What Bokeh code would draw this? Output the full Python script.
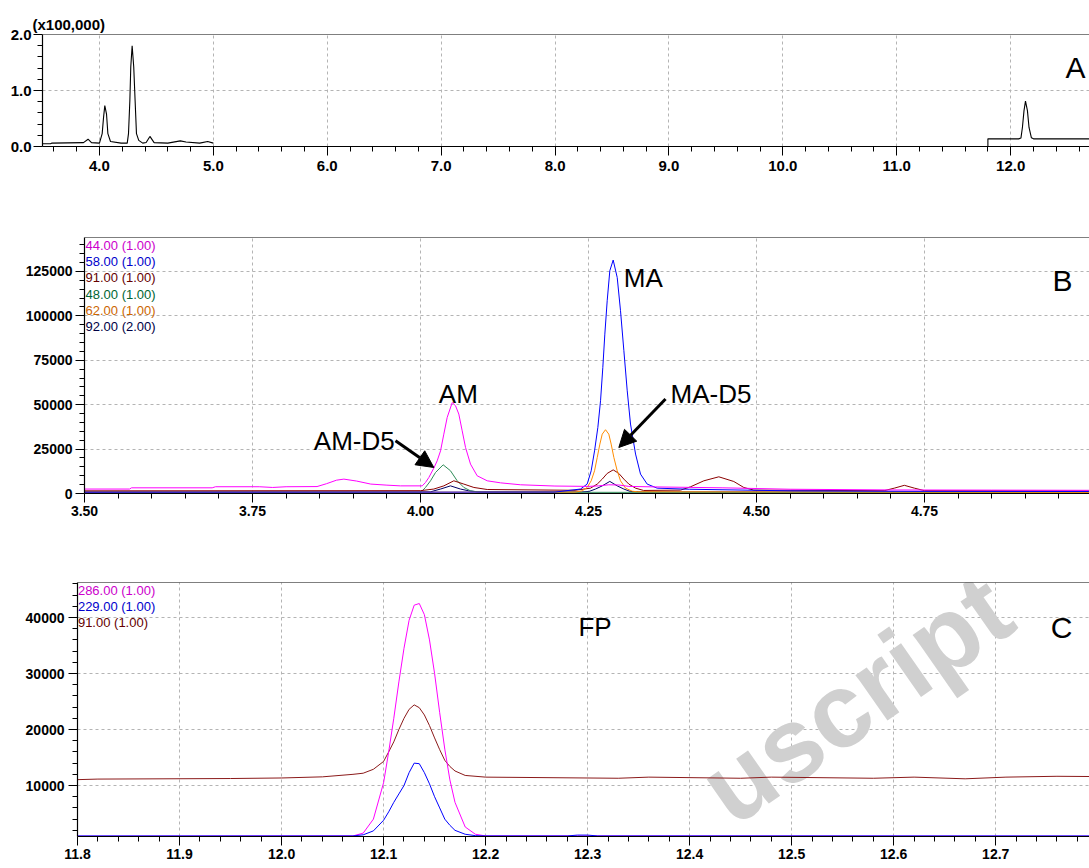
from bokeh.plotting import figure
from bokeh.models import Range1d, FixedTicker, PrintfTickFormatter, Span, Label, Arrow, NormalHead
from bokeh.embed import file_html
from bokeh.resources import INLINE

# ---------------- Panel A : TIC (x100,000) ----------------
A_T1 = [3.50, 3.57, 3.58, 3.86, 3.90, 3.93, 4.00, 4.024, 4.036, 4.047, 4.062, 4.074, 4.097, 4.19,
        4.244, 4.255, 4.267, 4.275, 4.287, 4.301, 4.313, 4.325, 4.345, 4.38, 4.41, 4.443, 4.48,
        4.60, 4.71, 4.76, 4.88, 4.95, 5.00]
A_I1 = [0.05, 0.05, 0.06, 0.07, 0.13, 0.07, 0.06, 0.23, 0.52, 0.73, 0.58, 0.23, 0.09, 0.06,
        0.06, 0.23, 0.82, 1.42, 1.80, 1.42, 0.82, 0.23, 0.11, 0.06, 0.07, 0.18, 0.07,
        0.06, 0.10, 0.08, 0.06, 0.09, 0.06]
A_T2 = [11.80, 11.80, 12.07, 12.09, 12.103, 12.117, 12.13, 12.147, 12.161, 12.182, 12.20, 12.70]
A_I2 = [0.0, 0.137, 0.136, 0.15, 0.34, 0.64, 0.81, 0.64, 0.34, 0.155, 0.137, 0.137]
A_XTICKS = [4.0, 5.0, 6.0, 7.0, 8.0, 9.0, 10.0, 11.0, 12.0]
A_YTICKS = [0.0, 1.0, 2.0]

# ---------------- Panel B : SIM 3.5-5.0 min ----------------
B_T_44 = [3.50, 3.567, 3.570, 3.690, 3.695, 3.76, 3.78, 3.80, 3.846, 3.86, 3.875, 3.886, 3.905, 3.926,
          3.95, 3.97, 4.0025, 4.0074, 4.0124, 4.0198, 4.0248, 4.0298, 4.0347, 4.0397, 4.0472, 4.0521,
          4.057, 4.062, 4.067, 4.0744, 4.0843, 4.0993, 4.119, 4.149, 4.20, 4.25, 4.265, 4.28, 4.295,
          4.31, 4.35, 4.45, 4.55, 4.70, 4.85, 5.00]
B_I_44 = [2500, 2500, 3200, 3200, 3800, 3800, 3400, 3800, 3900, 5500, 7500, 8100, 7000, 5300,
          4700, 4300, 4300, 6200, 9000, 14300, 18400, 24000, 33400, 42800, 51200, 49400,
          44700, 35300, 25900, 16550, 9970, 7150, 6000, 4900, 4200, 4000, 4300, 4900, 4800,
          4000, 3700, 3200, 2400, 2000, 1900, 1800]
B_T_58 = [3.50, 4.20, 4.238, 4.248, 4.254, 4.259, 4.2639, 4.2679, 4.2713, 4.2743, 4.2778, 4.2817,
          4.2867, 4.2927, 4.2976, 4.3026, 4.3076, 4.3125, 4.32, 4.3274, 4.3373, 4.3522, 4.40,
          4.55, 4.75, 5.00]
B_I_58 = [700, 800, 2500, 5300, 12800, 24000, 37200, 52200, 70900, 89700, 108500, 125400,
          131400, 121600, 102900, 80400, 57800, 39100, 22200, 10900, 5300, 3000, 2400,
          1500, 1200, 1100]
B_T_91 = [3.50, 4.00, 4.0198, 4.0347, 4.0496, 4.0645, 4.0794, 4.0993, 4.23, 4.253, 4.263, 4.2704,
          4.2778, 4.2867, 4.2951, 4.3026, 4.31, 4.32, 4.332, 4.387, 4.4018, 4.4216, 4.4439, 4.4662,
          4.4811, 4.496, 4.69, 4.705, 4.72, 4.735, 4.75, 5.00]
B_I_91 = [1500, 1600, 2500, 4300, 7150, 5300, 3400, 2250, 1800, 3000, 5300, 8100,
          11300, 13300, 11300, 8100, 5300, 3000, 1700, 1900, 3770, 7150, 9400, 6760,
          3380, 1900, 1600, 3000, 4600, 3000, 1600, 1400]
B_T_48 = [3.50, 4.00, 4.0025, 4.0074, 4.0149, 4.0223, 4.0337, 4.0446, 4.0546, 4.0645, 4.0744, 4.09, 5.00]
B_I_48 = [500, 500, 1500, 3400, 7150, 11800, 16150, 12800, 7150, 3400, 1500, 700, 500]
B_T_62 = [3.50, 4.23, 4.2406, 4.248, 4.254, 4.259, 4.263, 4.2669, 4.2704, 4.2753, 4.2802, 4.2837,
          4.2877, 4.2927, 4.2976, 4.3051, 4.315, 4.3224, 5.00]
B_I_62 = [700, 800, 1500, 3400, 7150, 12800, 20300, 27800, 33400, 35900, 33400, 27800,
          20300, 12800, 7150, 3000, 1300, 1000, 600]
B_T_92 = [3.50, 4.015, 4.02, 4.0298, 4.0446, 4.0595, 4.0719, 4.085, 4.24, 4.2504, 4.2604, 4.2704,
          4.2817, 4.2927, 4.3026, 4.3125, 4.33, 5.00]
B_I_92 = [900, 900, 1500, 2500, 4300, 2500, 1500, 900, 900, 1100, 2500, 4300,
          6800, 4300, 2500, 1100, 900, 800]
B_LEGEND = ["44.00 (1.00)", "58.00 (1.00)", "91.00 (1.00)", "48.00 (1.00)", "62.00 (1.00)", "92.00 (2.00)"]
B_XTICKS = [3.50, 3.75, 4.00, 4.25, 4.50, 4.75]
B_YTICKS = [0, 25000, 50000, 75000, 100000, 125000]

# ---------------- Panel C : SIM 11.8-12.8 min ----------------
C_T_286 = [11.80, 12.07, 12.08, 12.09, 12.10, 12.105, 12.11, 12.115, 12.12, 12.125, 12.13, 12.135,
           12.14, 12.145, 12.15, 12.155, 12.16, 12.165, 12.17, 12.18, 12.19, 12.20, 12.80]
C_I_286 = [950, 1000, 1500, 4000, 10500, 16000, 22000, 28500, 34500, 39500, 42200, 42500,
           40500, 36000, 30000, 23000, 16500, 11000, 7000, 2600, 1300, 1000, 950]
C_T_229 = [11.80, 12.07, 12.08, 12.09, 12.10, 12.105, 12.11, 12.115, 12.12, 12.125, 12.13, 12.135,
           12.14, 12.145, 12.15, 12.155, 12.16, 12.165, 12.17, 12.18, 12.19, 12.20, 12.28, 12.29,
           12.30, 12.31, 12.80]
C_I_229 = [1000, 1000, 1200, 1900, 3800, 5300, 7000, 8500, 10000, 12300, 14000, 13900,
           12300, 10300, 8000, 6000, 4000, 2900, 2000, 1300, 1050, 1000, 1000, 1150,
           1150, 1000, 1000]
C_T_91 = [11.80, 11.82, 11.95, 12.00, 12.04, 12.07, 12.08, 12.09, 12.10, 12.105, 12.11, 12.115,
          12.12, 12.125, 12.13, 12.135, 12.14, 12.145, 12.15, 12.155, 12.16, 12.165, 12.17, 12.18,
          12.20, 12.33, 12.36, 12.45, 12.48, 12.58, 12.62, 12.67, 12.71, 12.76, 12.80]
C_I_91 = [11050, 11150, 11250, 11350, 11550, 12000, 12200, 12900, 14300, 16000, 17800, 20000,
          22000, 23600, 24400, 23900, 22600, 20700, 18500, 16400, 14500, 13400, 12600, 11800,
          11500, 11300, 11500, 11300, 11500, 11300, 11500, 11200, 11500, 11650, 11600]
C_LEGEND = ["286.00 (1.00)", "229.00 (1.00)", "91.00 (1.00)"]
C_XTICKS = [11.8, 11.9, 12.0, 12.1, 12.2, 12.3, 12.4, 12.5, 12.6, 12.7]
C_YTICKS = [10000, 20000, 30000, 40000]

SANS = "'Liberation Sans'"
GRID = "#b4b4b4"


def make_fig(xr, yr, h, bl, bt, bb):
    p = figure(x_range=Range1d(*xr), y_range=Range1d(*yr), width=1089, height=h,
               output_backend="svg", toolbar_location=None,
               min_border_left=bl, min_border_right=0, min_border_top=bt, min_border_bottom=bb)
    p.outline_line_color = None
    p.background_fill_color = "white"
    p.border_fill_color = "white"
    p.add_layout(Span(location=yr[1], dimension="width", line_color="black", line_width=1.2))
    return p


def style(p, xticks, xminor, yticks, yminor, xfmt, yfmt, size, tick_out, minor_out, xstand, ystand):
    xt = FixedTicker(ticks=xticks, minor_ticks=xminor)
    yt = FixedTicker(ticks=yticks, minor_ticks=yminor)
    p.xaxis.ticker = xt
    p.yaxis.ticker = yt
    p.xgrid.ticker = xt
    p.ygrid.ticker = yt
    p.xaxis.formatter = PrintfTickFormatter(format=xfmt)
    p.yaxis.formatter = PrintfTickFormatter(format=yfmt)
    for ax in (p.xaxis[0], p.yaxis[0]):
        ax.axis_line_color = "black"
        ax.axis_line_width = 1.2
        ax.major_tick_line_color = "black"
        ax.minor_tick_line_color = "black"
        ax.major_tick_in = 0
        ax.minor_tick_in = 0
        ax.major_tick_out = tick_out
        ax.minor_tick_out = minor_out
        ax.major_label_text_font = SANS
        ax.major_label_text_font_size = size
        ax.major_label_text_font_style = "bold"
        ax.major_label_text_color = "black"
    p.xaxis[0].major_label_standoff = xstand
    p.yaxis[0].major_label_standoff = ystand
    for g in (p.xgrid[0], p.ygrid[0]):
        g.grid_line_color = GRID
        g.grid_line_dash = "3 3"
        g.grid_line_width = 1


def steps(a, b, d, skip):
    out = []
    n = int(round((b - a) / d))
    for i in range(n + 1):
        v = round(a + i * d, 6)
        if all(abs(v - s) > 1e-6 for s in skip):
            out.append(v)
    return out


# ---------- Figure A ----------
pa = make_fig((3.5, 12.692), (0.0, 2.0), 190, 42, 34, 44)
style(pa, A_XTICKS, steps(3.6, 12.6, 0.2, A_XTICKS), A_YTICKS, steps(0.2, 1.8, 0.2, A_YTICKS),
      "%.1f", "%.1f", "15px", 9, 5, 5, 2)
pa.line(A_T1, A_I1, line_color="black", line_width=1.1)
pa.line(A_T2, A_I2, line_color="black", line_width=1.1)
pa.title.text = "(x100,000)"
pa.title.align = "left"
pa.title.offset = -10
pa.title.standoff = 4
pa.title.text_font = SANS
pa.title.text_font_size = "15px"
pa.title.text_font_style = "bold"
pa.title.text_color = "black"
pa.add_layout(Label(x=12.482, y=1.414, text="A", text_font=SANS, text_font_size="30px",
                    text_color="black", text_baseline="alphabetic"))

# ---------- Figure B ----------
pb = make_fig((3.5, 4.9955), (0, 144100), 345, 84, 47, 42)
style(pb, B_XTICKS, steps(3.55, 4.95, 0.05, B_XTICKS), B_YTICKS, steps(5000, 140000, 5000, B_YTICKS),
      "%.2f", "%d", "14px", 9, 5, 3, 3)
pb.line(B_T_92, B_I_92, line_color="#000066", line_width=1)
pb.line(B_T_48, B_I_48, line_color="#2e8b57", line_width=1)
pb.line(B_T_91, B_I_91, line_color="#8b0000", line_width=1)
pb.line(B_T_62, B_I_62, line_color="#ff8c00", line_width=1)
pb.line(B_T_58, B_I_58, line_color="#0000ff", line_width=1)
pb.line(B_T_44, B_I_44, line_color="#ff00ff", line_width=1)
b_leg_colors = ["#cc00cc", "#0000cc", "#660000", "#006633", "#cc6600", "#000044"]
for i, (txt, col) in enumerate(zip(B_LEGEND, b_leg_colors)):
    pb.add_layout(Label(x=3.5015, y=139470 - i * 9060, text=txt, text_font=SANS, text_font_size="13px",
                        text_color=col, text_baseline="middle"))
for txt, x, y in [("MA", 4.3025, 121300), ("MA-D5", 4.372, 55970), ("AM", 4.0272, 55970),
                  ("AM-D5", 3.8412, 29280)]:
    pb.add_layout(Label(x=x, y=y, text=txt, text_font=SANS, text_font_size="26px",
                        text_color="black", text_baseline="alphabetic"))
pb.add_layout(Label(x=4.9405, y=119760, text="B", text_font=SANS, text_font_size="30px",
                    text_color="black", text_baseline="alphabetic"))
for xs, ys, xe, ye in [(3.9628, 29670, 4.0198, 14640), (4.3646, 53150, 4.2951, 25900)]:
    pb.add_layout(Arrow(end=NormalHead(size=17, fill_color="black", line_color="black"),
                        x_start=xs, y_start=ys, x_end=xe, y_end=ye, line_width=3, line_color="black"))

# ---------- Figure C ----------
pc = make_fig((11.8, 12.7919), (900, 46250), 333, 77, 47, 32)
style(pc, C_XTICKS, steps(11.82, 12.78, 0.02, C_XTICKS), C_YTICKS, steps(2000, 46000, 2000, C_YTICKS),
      "%.1f", "%d", "14px", 9, 5, 3, 4)
pc.add_layout(Label(x=12.4222, y=7680, text="uscript", text_font=SANS, text_font_size="105px",
                    text_font_style="bold", text_color="#d0d0d0", angle=35, angle_units="deg",
                    text_baseline="alphabetic", level="underlay"))
pc.line(C_T_91, C_I_91, line_color="#8b1a1a", line_width=1)
pc.line(C_T_286, C_I_286, line_color="#ff00ff", line_width=1)
pc.line(C_T_229, C_I_229, line_color="#0000ff", line_width=1)
c_leg_colors = ["#cc00cc", "#0000cc", "#660000"]
for i, (txt, col) in enumerate(zip(C_LEGEND, c_leg_colors)):
    pc.add_layout(Label(x=11.8004, y=44820 - i * 2830, text=txt, text_font=SANS, text_font_size="13px",
                        text_color=col, text_baseline="middle"))
pc.add_layout(Label(x=12.291, y=38390, text="FP", text_font=SANS, text_font_size="26px",
                    text_color="black", text_baseline="alphabetic"))
pc.add_layout(Label(x=12.754, y=38210, text="C", text_font=SANS, text_font_size="30px",
                    text_color="black", text_baseline="alphabetic"))

open("out.html", "w").write(file_html([pa, pb, pc], INLINE))
